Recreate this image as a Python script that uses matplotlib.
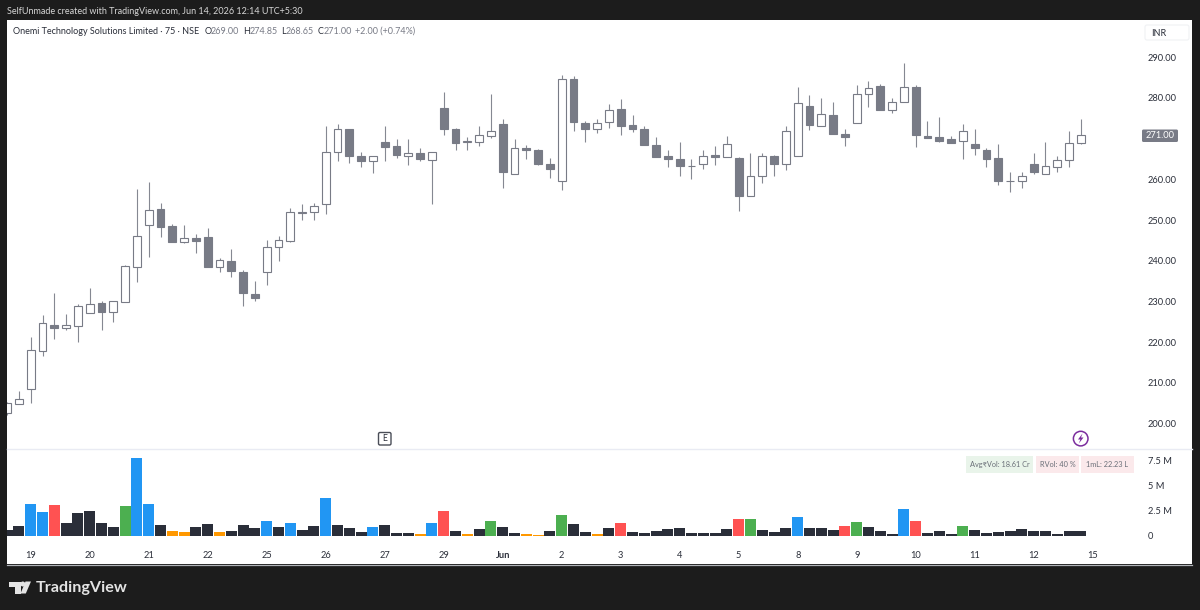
# plot.py -- TradingView style 75 min candles with volume pane
import matplotlib
matplotlib.use('Agg')
import matplotlib.pyplot as plt
from matplotlib.patches import Circle, FancyBboxPatch, Polygon, Rectangle

W, H = 1200, 610
BG = '#1c1c1c'
CANDLE = '#787b86'
AXIS_FS = 6.7
LEGEND_FS = 6.45

# price bars
opens = [202.5, 204.8, 208.4, 217.8, 224.2, 223.6, 224.0, 227.2, 229.6, 227.4,
         229.9, 238.5, 248.9, 252.8, 248.5, 244.6, 245.5, 245.8, 238.5, 240.0,
         237.2, 231.8, 237.2, 243.5, 244.8, 251.8, 251.9, 253.9, 266.8, 272.3,
         265.7, 264.4, 269.1, 268.1, 265.8, 266.5, 264.8, 277.5, 272.5, 269.3,
         269.3, 270.7, 273.6, 261.4, 267.8, 267.3, 263.7, 259.7, 284.7, 273.8,
         272.3, 274.1, 277.2, 273.4, 272.5, 268.5, 265.7, 265.0, 263.2, 263.7,
         265.9, 265.6, 265.3, 255.9, 260.8, 265.8, 263.9, 265.8, 278.1, 273.2,
         275.9, 271.2, 273.8, 281.0, 283.0, 277.1, 279.1, 282.8, 270.6, 270.3,
         269.9, 269.4, 268.8, 267.3, 265.3, 259.5, 259.6, 263.9, 261.4, 263.0,
         264.7, 269.0]
highs = [205.2, 208.1, 221.3, 226.8, 232.0, 226.9, 229.3, 233.3, 230.0, 230.2,
         238.9, 257.6, 259.4, 254.1, 249.0, 248.8, 246.7, 248.0, 240.8, 242.9,
         237.7, 235.0, 245.1, 246.1, 252.9, 253.9, 254.3, 273.2, 273.5, 272.3,
         266.7, 265.7, 273.0, 269.8, 270.0, 267.6, 266.7, 281.5, 272.7, 270.5,
         273.1, 280.9, 274.8, 270.0, 268.4, 267.4, 265.3, 285.7, 285.3, 274.3,
         274.9, 278.5, 279.7, 275.9, 273.1, 270.3, 267.1, 269.1, 265.0, 267.1,
         268.3, 270.7, 265.4, 266.4, 266.4, 266.0, 273.1, 282.6, 280.8, 279.9,
         279.1, 272.3, 283.1, 284.1, 283.4, 279.9, 288.7, 283.2, 274.4, 275.3,
         270.7, 273.5, 272.3, 267.6, 268.7, 261.8, 261.7, 266.5, 269.1, 265.8,
         272.0, 274.85]
lows = [202.0, 204.8, 205.0, 216.7, 220.9, 223.1, 220.0, 227.2, 223.0, 224.9,
        229.8, 234.9, 241.0, 245.9, 244.7, 244.3, 242.0, 238.4, 237.2, 236.0,
        229.0, 230.2, 234.0, 239.9, 244.5, 250.0, 250.0, 251.4, 264.4, 264.0,
        263.1, 261.5, 264.6, 265.2, 263.5, 264.4, 254.0, 270.8, 267.1, 267.2,
        268.2, 270.1, 258.0, 261.2, 264.9, 263.5, 260.4, 257.5, 272.0, 269.2,
        271.5, 272.6, 271.0, 271.7, 268.4, 265.6, 263.0, 260.8, 260.1, 262.5,
        263.5, 265.6, 252.3, 255.9, 259.2, 260.9, 262.3, 265.8, 272.1, 273.0,
        271.2, 268.2, 273.8, 277.9, 277.0, 276.2, 278.9, 267.9, 270.2, 269.1,
        269.0, 265.0, 266.1, 263.0, 258.5, 257.0, 258.0, 261.2, 261.4, 261.9,
        263.1, 268.65]
closes = [205.0, 206.0, 218.0, 224.7, 223.6, 224.1, 229.0, 229.3, 227.4, 230.0,
          238.7, 246.2, 252.4, 248.2, 244.7, 245.7, 244.8, 238.5, 240.1, 237.5,
          232.2, 230.8, 243.5, 245.0, 252.1, 251.9, 253.4, 266.8, 272.3, 265.8,
          264.4, 265.7, 268.0, 266.0, 266.6, 264.9, 266.7, 272.5, 269.0, 269.4,
          270.8, 271.8, 261.7, 267.8, 267.3, 263.7, 262.6, 284.7, 274.2, 272.3,
          273.8, 277.1, 273.1, 272.5, 268.4, 265.6, 264.9, 263.2, 263.3, 265.8,
          265.6, 268.8, 255.9, 260.8, 265.8, 263.7, 271.8, 278.7, 273.4, 276.1,
          271.2, 270.5, 280.9, 282.4, 277.1, 279.1, 282.8, 270.8, 270.2, 269.4,
          269.0, 271.8, 267.6, 264.9, 259.5, 259.6, 260.8, 261.9, 263.2, 264.7,
          269.0, 271.0]

# volume in millions, colour class per bar
volumes = [0.57, 0.97, 3.17, 2.37, 3.03, 1.23, 2.23, 2.50, 1.23, 0.90,
           2.97, 7.73, 3.17, 1.03, 0.47, 0.37, 0.83, 1.17, 0.37, 0.50,
           1.03, 0.77, 1.50, 0.90, 1.23, 0.57, 0.97, 3.77, 1.03, 0.77,
           0.37, 0.90, 1.10, 0.30, 0.30, 0.17, 1.30, 2.50, 0.50, 0.17,
           0.70, 1.50, 0.90, 0.30, 0.17, 0.10, 0.50, 2.03, 1.17, 0.37,
           0.17, 0.77, 1.30, 0.37, 0.30, 0.43, 0.63, 0.77, 0.30, 0.30,
           0.30, 0.70, 1.70, 1.63, 0.57, 0.37, 0.77, 1.83, 0.77, 0.77,
           0.57, 0.97, 1.37, 0.83, 0.50, 0.17, 2.63, 1.43, 0.30, 0.43,
           0.17, 0.97, 0.57, 0.23, 0.37, 0.50, 0.70, 0.43, 0.43, 0.17,
           0.50, 0.50]
vol_class = ('d d b b r d d d d d '
             'g b b d o o d d o d '
             'd d b d b d d b d d '
             'd b d d d o b r d o '
             'd g d d o o d g d d '
             'o d r d d d d d d d '
             'd d r g d d d b d d '
             'd r g d d d b r d d '
             'd g d d d d d d d d '
             'd d').split()
VOL_COLORS = {'d': '#2a2e39', 'b': '#2196f3', 'r': '#ff5252', 'g': '#4caf50', 'o': '#ff9800'}

# axis labels
price_ticks = [200, 210, 220, 230, 240, 250, 260, 270, 280, 290]
vol_ticks = [0, 2.5, 5, 7.5]
vol_tick_labels = ['0', '2.5 M', '5 M', '7.5 M']
day_pos = [2, 7, 12, 17, 22, 27, 32, 37, 42, 47, 52, 57, 62, 67, 72, 77, 82, 87, 92]
day_labels = ['19', '20', '21', '22', '25', '26', '27', '29', 'Jun', '2', '3', '4',
              '5', '8', '9', '10', '11', '12', '15']

plt.rcParams['font.family'] = ['Lato', 'DejaVu Sans']

fig = plt.figure(figsize=(W / 100, H / 100), dpi=100, facecolor=BG)


def pane(x0, y0, x1, y1, **kw):
    # axes from pixel box, y measured from the top
    return fig.add_axes([x0 / W, 1 - y1 / H, (x1 - x0) / W, (y1 - y0) / H], **kw)


# chrome layer in pixel coordinates
chrome = pane(0, 0, W, H, zorder=0)
chrome.set_xlim(0, W)
chrome.set_ylim(H, 0)
chrome.axis('off')
chrome.add_patch(Rectangle((7, 20), 1185, 544, fc='white', ec='none'))
chrome.plot([7, 1192], [564.5, 564.5], color='#b0b3b8', lw=0.9)
chrome.plot([7, 1192], [448.5, 448.5], color='#e9ebf3', lw=1)

# price pane
ax = pane(7, 20, 1138, 448, zorder=1)
ax.patch.set_alpha(0)
ax.set_xlim(-0.01, 95.84)
ax.set_ylim(194.0, 299.16)
for s in ax.spines.values():
    s.set_visible(False)
x = list(range(len(opens)))
ax.vlines(x, lows, highs, color=CANDLE, lw=0.8, alpha=0.9, zorder=2)
body_colors = ['white' if c >= o else CANDLE for o, c in zip(opens, closes)]
ax.bar(x, [abs(c - o) for o, c in zip(opens, closes)],
       bottom=[min(o, c) for o, c in zip(opens, closes)],
       width=0.66, color=body_colors, edgecolor=CANDLE, linewidth=0.8, zorder=3)
ax.set_xticks([])
ax.yaxis.tick_right()
ax.set_yticks(price_ticks)
ax.set_yticklabels([f'{p:.2f}' for p in price_ticks], fontsize=AXIS_FS, color='#2a2e39')
ax.tick_params(axis='y', length=0, pad=7.2)

# volume pane
vx = pane(7, 449, 1138, 564, zorder=1)
vx.patch.set_alpha(0)
vx.set_xlim(-0.01, 95.84)
vx.set_ylim(-2.84, 8.66)
for s in vx.spines.values():
    s.set_visible(False)
vx.bar(x, volumes, width=0.93, color=[VOL_COLORS[k] for k in vol_class])
vx.yaxis.tick_right()
vx.set_yticks(vol_ticks)
vx.set_yticklabels(vol_tick_labels, fontsize=AXIS_FS, color='#2a2e39')
vx.tick_params(axis='y', length=0, pad=7.2)
vx.set_xticks(day_pos)
vx.set_xticklabels(day_labels, fontsize=AXIS_FS, color='#2a2e39')
vx.get_xticklabels()[day_labels.index('Jun')].set_fontweight('bold')
vx.tick_params(axis='x', length=0, pad=-9.5)

# header strip and legend line
chrome.text(7, 11, 'SelfUnmade created with TradingView.com, Jun 14, 2026 12:14 UTC+5:30',
            fontsize=6.45, color='#d6d6d6', va='center')
chrome.text(13, 31, 'Onemi Technology Solutions Limited · 75 · NSE', fontsize=LEGEND_FS,
            color='#2a2e39', va='center')
for lx, label, val_x, val in [(204.5, 'O', 211, '269.00'), (243, 'H', 249.5, '274.85'),
                              (281, 'L', 286, '268.65'), (317.5, 'C', 323.5, '271.00')]:
    chrome.text(lx, 31, label, fontsize=LEGEND_FS, color='#2a2e39', va='center')
    chrome.text(val_x, 31, val, fontsize=LEGEND_FS, color='#787b86', va='center')
chrome.text(355, 31, '+2.00 (+0.74%)', fontsize=LEGEND_FS, color='#787b86', va='center')

# INR button
chrome.add_patch(FancyBboxPatch((1145, 25), 44, 15, boxstyle='round,pad=0,rounding_size=2',
                                fc='white', ec='#f0f1f4', lw=0.8))
chrome.text(1151, 33, 'INR', fontsize=LEGEND_FS, color='#2a2e39', va='center')

# last price tag
over = pane(0, 0, W, H, zorder=5)
over.set_xlim(0, W)
over.set_ylim(H, 0)
over.axis('off')
over.add_patch(FancyBboxPatch((1142, 129.5), 36, 12.5, boxstyle='round,pad=0,rounding_size=1.5',
                              fc=CANDLE, ec='none'))
over.text(1160, 135.6, '271.00', fontsize=AXIS_FS, color='white', ha='center', va='center')

# event markers
over.add_patch(FancyBboxPatch((378.5, 432.5), 12.5, 12.5, boxstyle='round,pad=0,rounding_size=1.5',
                              fc='white', ec='#4a4d57', lw=1))
over.text(384.7, 438.9, 'E', fontsize=6.2, color='#2a2e39', ha='center', va='center')
over.add_patch(Circle((1080.7, 438.6), 7.3, fc='white', ec='#7b2d9e', lw=1.1))
over.add_patch(Polygon([(1082.5, 433.5), (1078, 439.5), (1080.4, 439.5), (1078.8, 443.5),
                        (1083.5, 437.5), (1081, 437.5)], fc='#7b2d9e', ec='none'))

# stat badges on the volume pane
for bx, bw, txt, fc in [(966, 67, 'Avg₹Vol: 18.61 Cr', '#e9f4ea'),
                        (1036, 43, 'RVol: 40 %', '#fbe9eb'),
                        (1081, 53, '1mL: 22.23 L', '#fbe9eb')]:
    over.add_patch(Rectangle((bx, 456), bw, 17, fc=fc, ec='none'))
    over.text(bx + bw / 2, 464.8, txt, fontsize=5.3, color='#6a6f78', ha='center', va='center')

# TradingView logo
over.add_patch(Polygon([(8.5, 581.5), (20.5, 581.5), (20.5, 593.5), (14.5, 593.5), (14.5, 586.7), (8.5, 586.7)],
                       fc='#e4e4e4', ec='none'))
over.add_patch(Circle((22.8, 584), 2.5, fc='#e4e4e4', ec='none'))
over.add_patch(Polygon([(25.5, 581.5), (31, 581.5), (25.8, 593.5), (20.5, 593.5)], fc='#e4e4e4', ec='none'))
over.text(36, 588, 'TradingView', fontsize=11.6, color='#e4e4e4', va='center', fontweight='bold')

fig.savefig('out.png', dpi=100, facecolor=BG)
print('Saved out.png')
